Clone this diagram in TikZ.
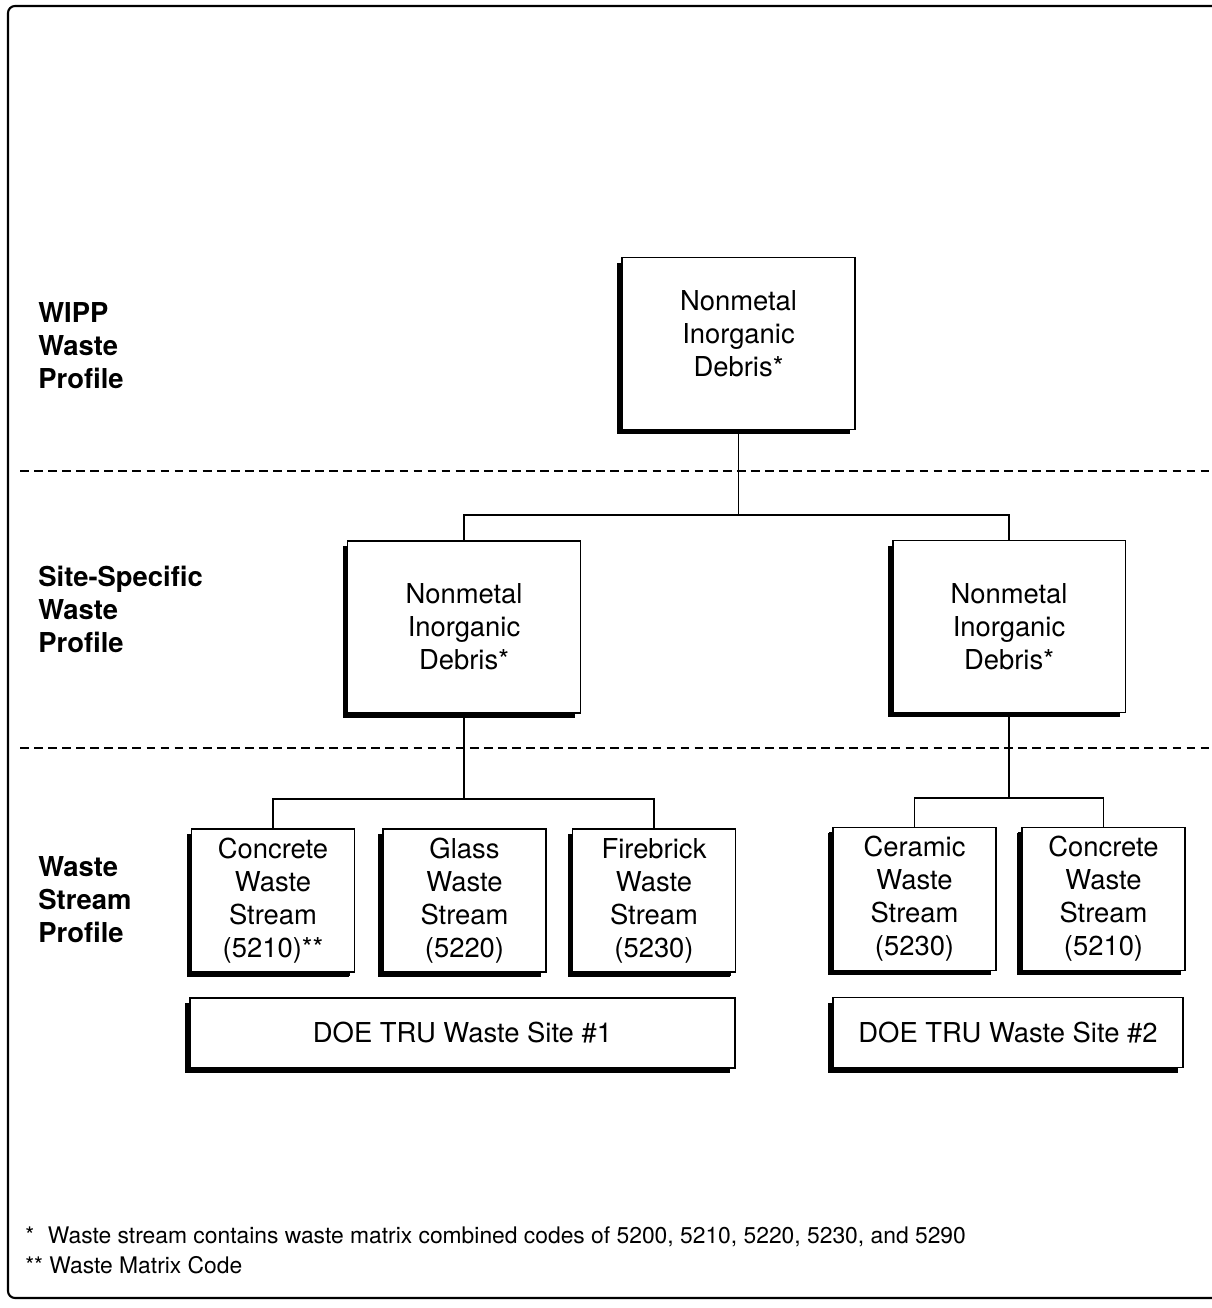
\documentclass[tikz,border=0pt]{standalone}
\usepackage{fontspec}
\setmainfont{TeX Gyre Heros}
\usepackage{tikz}
\usetikzlibrary{positioning,shadows,calc}
\tikzset{
  base/.style={font=\fontsize{15.6}{18.8}\selectfont, align=center, inner sep=2pt, text=black},
  box/.style={base, rectangle, draw=black, fill=white, line width=1.1pt,
    drop shadow={shadow xshift=-0.1cm, shadow yshift=-0.1cm, fill=black, opacity=1}},
  bigbox/.style={box, minimum width=4.66cm, minimum height=3.44cm},
  streambox/.style={box, minimum width=3.26cm, minimum height=2.86cm,
    drop shadow={shadow xshift=-0.09cm, shadow yshift=-0.09cm, fill=black, opacity=1}},
  sitebox/.style={box, minimum height=1.4cm},
  conn/.style={line width=0.9pt, draw=black},
  sep/.style={line width=0.9pt, dash pattern=on 5pt off 3pt},
  levellabel/.style={base, font=\fontsize{15.6}{18.8}\selectfont\bfseries, align=left, anchor=west, inner sep=0pt},
  foot/.style={font=\fontsize{13}{15}\selectfont, anchor=west, inner sep=0pt},
}
\begin{document}
\begin{tikzpicture}[x=0.02cm, y=-0.02cm]
  \useasboundingbox (0,0) rectangle (1211,1308);
  \draw[line width=1.2pt, rounded corners=4pt] (8,6) rectangle (1240,1298);
  \draw[sep] (20,471) -- (1211,471);
  \draw[sep] (20,748) -- (1211,748);
  \node[levellabel] (lwipp) at (38,346) {WIPP\\Waste\\Profile};
  \node[levellabel] (lsite) at (38,609) {Site-Specific\\Waste\\Profile};
  \node[levellabel] (lstream) at (38,900) {Waste\\Stream\\Profile};
  \node[bigbox, text depth=11pt] (top) at (738.5,343.5) {Nonmetal\\Inorganic\\Debris*};
  \node[bigbox] (site1) at (464,627) {Nonmetal\\Inorganic\\Debris*};
  \node[bigbox] (site2) at (1009,626.5) {Nonmetal\\Inorganic\\Debris*};
  \foreach \i/\x/\y/\n in {1/273/900.5/Concrete\\Waste\\Stream\\(5210)**,2/464.5/900.5/Glass\\Waste\\Stream\\(5220),3/654/900.5/Firebrick\\Waste\\Stream\\(5230),4/914.5/899/Ceramic\\Waste\\Stream\\(5230),5/1103.5/899/Concrete\\Waste\\Stream\\(5210)}{
    \node[streambox] (S\i) at (\x,\y) {\n};
  }
  \node[sitebox,minimum width=10.9cm] (doe1) at (462.5,1033) {DOE TRU Waste Site \#1};
  \node[sitebox,minimum width=7.0cm] (doe2) at (1008,1032.5) {DOE TRU Waste Site \#2};
  \coordinate (j1) at (738.5,515);
  \coordinate (j2) at (464,799);
  \coordinate (j3) at (1009,798);
  \draw[conn] (top.south) -- (j1);
  \draw[conn] (j1) -| (site1.north);
  \draw[conn] (j1) -| (site2.north);
  \draw[conn] (site1.south) -- (j2);
  \draw[conn] (j2) -| (S1.north);
  \draw[conn] (j2) -| (S3.north);
  \draw[conn] (site2.south) -- (j3);
  \draw[conn] (j3) -| (S4.north);
  \draw[conn] (j3) -| (S5.north);
  \node[foot] (fn1) at (25,1237) {*\hspace{0.6em}Waste stream contains waste matrix combined codes of 5200, 5210, 5220, 5230, and 5290};
  \node[foot] (fn2) at (25,1265) {** Waste Matrix Code};
\end{tikzpicture}
\end{document}
